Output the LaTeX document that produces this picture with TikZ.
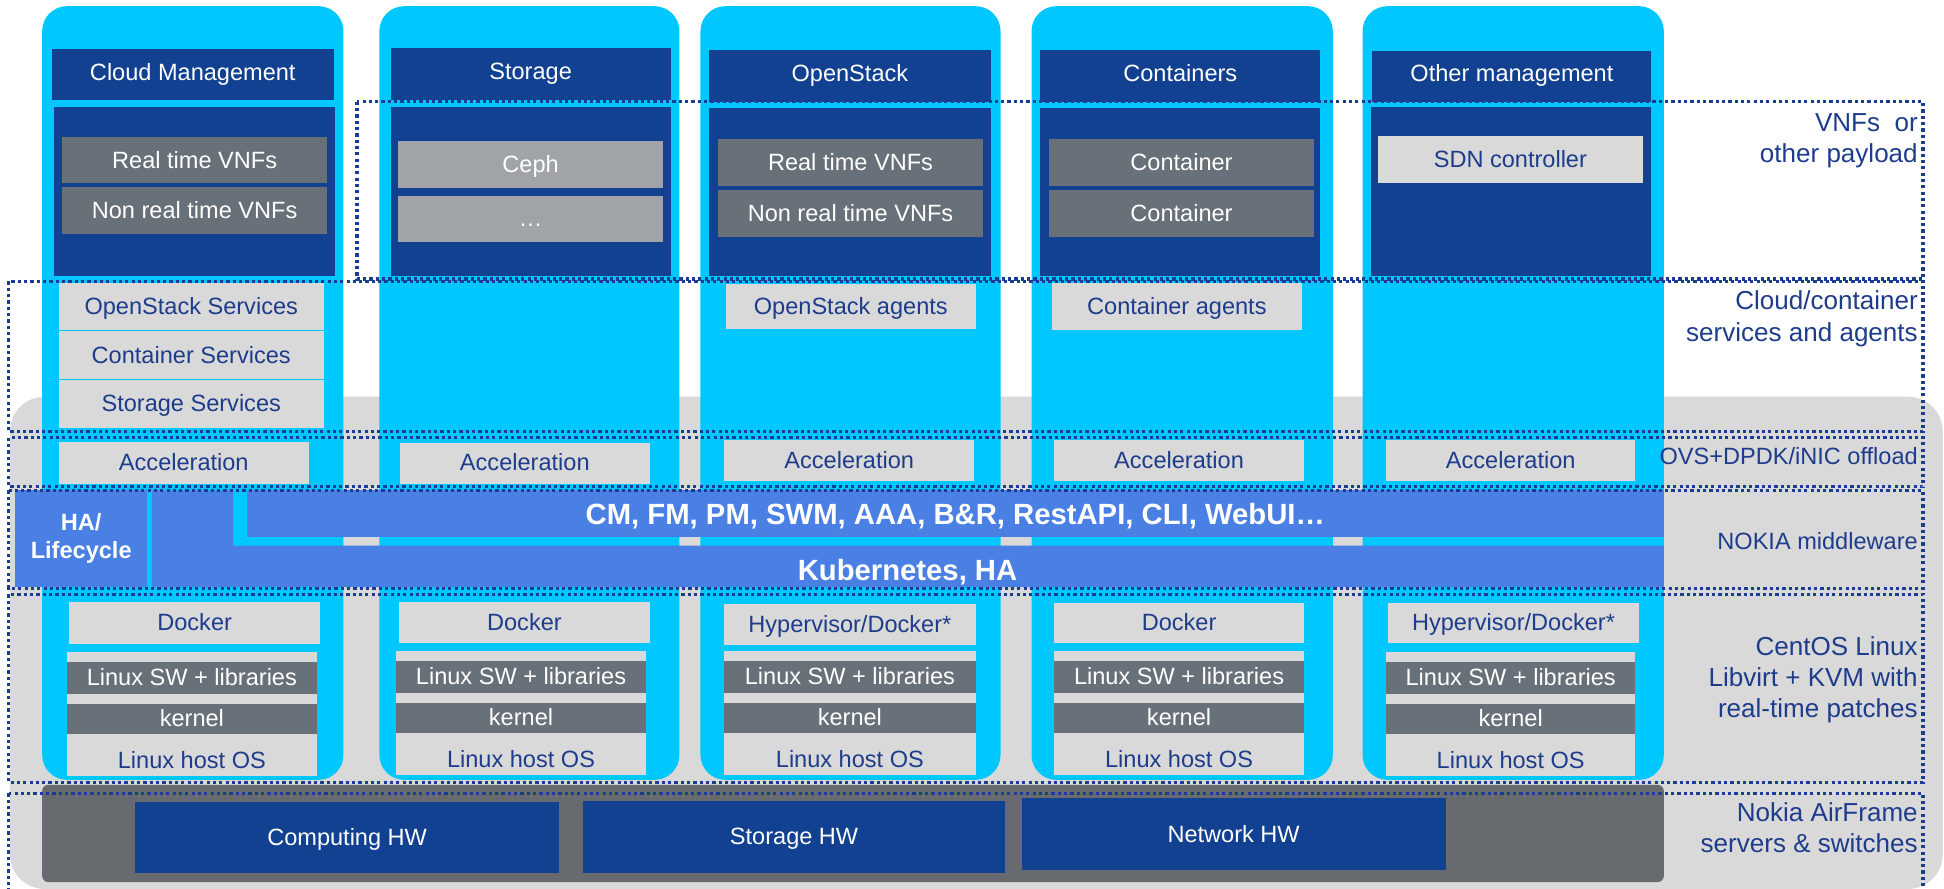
\documentclass[tikz,border=0pt]{standalone}
\usepackage{fontspec}
\setmainfont{Liberation Sans}
\definecolor{cyanc}{HTML}{00C8FF}
\definecolor{nblue}{HTML}{124191}
\definecolor{dgray}{HTML}{687079}
\definecolor{mgray}{HTML}{A0A4A8}
\definecolor{lgray}{HTML}{D9D9D9}
\definecolor{bggray}{HTML}{D9D9D9}
\definecolor{mwblue}{HTML}{4A80E4}
\definecolor{tblue}{HTML}{1E3C8C}
\definecolor{hwgray}{HTML}{676B6F}
\definecolor{dotc}{HTML}{1A3C92}
\tikzset{
 bxbase/.style={inner sep=0pt, outer sep=0pt, draw=none},
 f19/.style={font=\fontsize{19}{23}\selectfont},
 capc/.style={text height=12.6pt, text depth=0pt},
 col/.style={bxbase, fill=cyanc, rounded corners=20pt},
 hdr/.style={bxbase, f19, fill=nblue, text=white, text height=12.6pt, text depth=3.8pt},
 panel/.style={bxbase, fill=nblue},
 dg/.style={bxbase, f19, capc, fill=dgray, text=white},
 mg/.style={bxbase, f19, capc, fill=mgray, text=white},
 lg/.style={bxbase, f19, capc, fill=lgray, text=tblue},
 hw/.style={bxbase, f19, capc, fill=nblue, text=white},
 mw/.style={bxbase, fill=mwblue, text=white, font=\bfseries\fontsize{23.6}{27}\selectfont, text height=16.9pt, text depth=0pt},
 mwtext/.style={inner sep=0pt, anchor=base, text=white, font=\bfseries\fontsize{23.6}{27}\selectfont},
 ha/.style={bxbase, fill=mwblue, text=white, font=\bfseries\fontsize{19}{22.5}\selectfont, align=center},
 frame/.style={draw=dotc, line width=2.6pt, dash pattern=on 2.6pt off 2.5pt},
 lab/.style={inner sep=0pt, anchor=base east, text=tblue, font=\fontsize{21}{25}\selectfont},
 labs/.style={inner sep=0pt, anchor=base east, text=tblue, f19},
 host/.style={inner sep=0pt, anchor=base, text=tblue, f19},
}
% \bx{style}{name}{x1}{y1}{x2}{y2}{text}
\newcommand\bx[7]{\node[#1,minimum width={((#5)-(#3))*1pt},minimum height={((#6)-(#4))*1pt}] (#2) at ({((#3)+(#5))/2},{((#4)+(#6))/2}) {#7};}
\newcommand\osstack[4]{%
 \bx{bxbase,fill=lgray}{os#1}{#2}{#4}{#3}{#4+100}{}
 \bx{dg}{sw#1}{#2}{#4+8}{#3}{#4+34}{Linux SW + libraries}
 \bx{dg}{k#1}{#2}{#4+42}{#3}{#4+66}{kernel}
 \node[host] (host#1) at ({((#2)+(#3))/2},{(#4)+94}) {Linux host OS};}
\begin{document}
\begin{tikzpicture}[x=1pt,y=-1pt]
\useasboundingbox (0,0) rectangle (1568,717);
% background
\bx{bxbase,fill=bggray,rounded corners=28pt}{bg}{8}{320}{1567}{717}{}
% columns
\bx{col}{c1}{34}{5}{277}{629}{}
\bx{col}{c2}{306}{5}{548}{629}{}
\bx{col}{c3}{565}{5}{807}{629}{}
\bx{col}{c4}{832}{5}{1075}{629}{}
\bx{col}{c5}{1099}{5}{1342}{629}{}
% hardware
\bx{bxbase,fill=hwgray,rounded corners=5pt}{hwband}{34}{633}{1342}{711.5}{}
\bx{hw}{chw}{109}{647}{451}{704}{Computing HW}
\bx{hw}{shw}{470}{646}{811}{704}{Storage HW}
\bx{hw}{nhw}{824}{644}{1166}{702}{Network HW}
% headers
\bx{hdr}{h1}{42}{39.5}{269}{81}{Cloud Management}
\bx{hdr}{h2}{315}{39}{541}{81}{Storage}
\bx{hdr}{h3}{572}{40}{799}{82}{OpenStack}
\bx{hdr}{h4}{839}{40}{1065}{82}{Containers}
\bx{hdr}{h5}{1107}{41}{1332}{82}{Other management}
% payload panels
\bx{panel}{p1}{43.5}{86}{270}{223}{}
\bx{panel}{p2}{315}{86}{541}{223}{}
\bx{panel}{p3}{572}{87}{799}{223}{}
\bx{panel}{p4}{839}{87}{1065}{223}{}
\bx{panel}{p5}{1106}{86}{1332}{223}{}
\bx{dg}{rt1}{50}{110.5}{264}{148}{Real time VNFs}
\bx{dg}{nrt1}{50}{151}{264}{189}{Non real time VNFs}
\bx{mg}{ceph}{321}{114}{535}{151.5}{Ceph}
\bx{mg}{etc}{321}{158}{535}{195}{…}
\bx{dg}{rt3}{579}{112}{793}{150}{Real time VNFs}
\bx{dg}{nrt3}{579}{153}{793}{191}{Non real time VNFs}
\bx{dg}{ct1}{846}{112}{1060}{150}{Container}
\bx{dg}{ct2}{846}{153}{1060}{191}{Container}
\bx{lg}{sdn}{1111.5}{110}{1325}{147.5}{SDN controller}
% services and agents
\bx{lg}{oss}{47.5}{228}{261}{266.3}{OpenStack Services}
\bx{lg}{cs}{47.5}{267.3}{261}{305.8}{Container Services}
\bx{lg}{ss}{47.5}{306.8}{261}{345}{Storage Services}
\bx{lg}{osa}{585.5}{229}{787}{265}{OpenStack agents}
\bx{lg}{ca}{848.5}{228}{1050}{266}{Container agents}
% acceleration
\bx{lg}{a1}{47.5}{356.5}{249}{390}{Acceleration}
\bx{lg}{a2}{322.6}{357}{524}{390}{Acceleration}
\bx{lg}{a3}{584}{355}{786}{388}{Acceleration}
\bx{lg}{a4}{850}{355}{1052}{388}{Acceleration}
\bx{lg}{a5}{1118}{355}{1319}{388}{Acceleration}
% middleware
\fill[mwblue] (122.5,395.5) -- (188,395.5) -- (188,440) -- (1342,440) -- (1342,473.5) -- (122.5,473.5) -- cycle;
\bx{ha}{ha}{12.5}{395.5}{118.5}{473.5}{HA/\\Lifecycle}
\bx{mw}{cm}{199}{395.5}{1342}{433}{CM, FM, PM, SWM, AAA, B\&R, RestAPI, CLI, WebUI…}
\node[mwtext] (k8s) at (732,468) {Kubernetes, HA};
% docker / hypervisor
\bx{lg}{d1}{56}{485.6}{258}{519.5}{Docker}
\bx{lg}{d2}{322}{485.6}{524}{519}{Docker}
\bx{lg}{d3}{584}{487}{787}{520}{Hypervisor/Docker*}
\bx{lg}{d4}{850}{486}{1052}{519}{Docker}
\bx{lg}{d5}{1119.5}{486}{1322}{519}{Hypervisor/Docker*}
% OS stacks
\osstack{1}{54}{255.5}{526}
\osstack{2}{319.5}{521}{525}
\osstack{3}{584}{787}{525}
\osstack{4}{850}{1052}{525}
\osstack{5}{1118}{1319}{526}
% dotted layer frames
\draw[frame] (288,82) rectangle (1551,225);
\draw[frame] (7,227) rectangle (1551,348);
\draw[frame] (7,353) rectangle (1551,392.5);
\draw[frame] (7,395.5) rectangle (1551,474.5);
\draw[frame] (7,479.5) rectangle (1551,631);
\draw[frame] (7,640) rectangle (1551,724);
% layer labels
\node[lab] (l1a) at (1547,106) {VNFs\ \ or};
\node[lab] (l1b) at (1547,131) {other payload};
\node[lab] (l2a) at (1547,250) {Cloud/container};
\node[lab] (l2b) at (1547,275.6) {services and agents};
\node[labs] (l3) at (1547,374.5) {OVS+DPDK/iNIC offload};
\node[labs] (l4) at (1547,443) {NOKIA middleware};
\node[lab] (l5a) at (1547,529) {CentOS Linux};
\node[lab] (l5b) at (1547,554) {Libvirt + KVM with};
\node[lab] (l5c) at (1547,579) {real-time patches};
\node[lab] (l6a) at (1547,663) {Nokia AirFrame};
\node[lab] (l6b) at (1547,688) {servers \& switches};
\end{tikzpicture}
\end{document}
